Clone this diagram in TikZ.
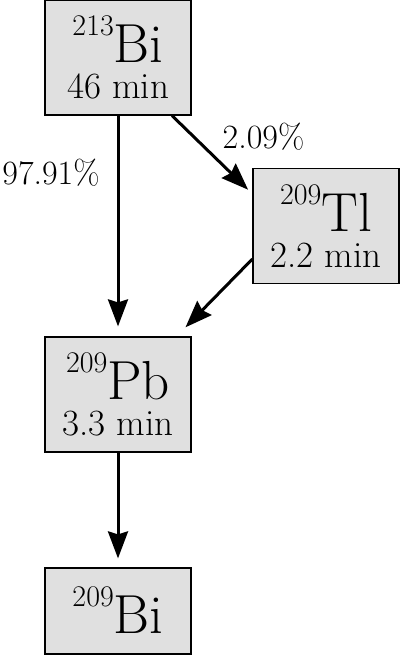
\documentclass[tikz,border=0pt]{standalone}
\usetikzlibrary{arrows.meta,calc}
\definecolor{boxfill}{HTML}{E0E0E0}
\tikzset{
  nucbox/.style={draw=black, line width=1.2pt, fill=boxfill, minimum width=146pt, minimum height=115pt, inner sep=0pt},
  bigtxt/.style={anchor=base, inner sep=0pt, font=\fontsize{55}{55}\selectfont},
  smalltxt/.style={anchor=base, inner sep=0pt, font=\fontsize{37}{37}\selectfont},
  lbl/.style={anchor=base, inner sep=0pt, font=\fontsize{34}{34}\selectfont},
  decay/.style={line width=3pt, -{Stealth[length=27pt,width=20pt,inset=3pt]}}
}
\newcommand{\iso}[2]{{\fontsize{30}{30}\selectfont\raisebox{27pt}{#1}}#2}
\begin{document}
\begin{tikzpicture}[x=1pt,y=-1pt]
\useasboundingbox (0,0) rectangle (400,655);
\node[nucbox] (bi213) at (118,57.5) {};
\node[nucbox] (tl) at (326,226) {};
\node[nucbox] (pb) at (118,394.5) {};
\node[nucbox, minimum height=86pt] (bi209) at (118,611) {};
\node[bigtxt] (t1) at (118,63) {\iso{213}{Bi}};
\node[smalltxt] (m1) at (118,99) {46 min};
\node[bigtxt] (t2) at (326,231) {\iso{209}{Tl}};
\node[smalltxt] (m2) at (326,267) {2.2 min};
\node[bigtxt] (t3) at (118,399) {\iso{209}{Pb}};
\node[smalltxt] (m3) at (118,435) {3.3 min};
\node[bigtxt] (t4) at (118,633) {\iso{209}{Bi}};
\node[lbl] (l1) at (51,184) {97.91\%};
\node[lbl] (l2) at (263.5,149) {2.09\%};
\draw[decay, shorten >=10pt] (bi213.south) -- (pb.north);
\draw[decay, shorten >=6pt] ($(bi213.south)+(54,0)$) -- ($(tl.north west)+(0,26)$);
\draw[decay, shorten >=12.7pt] ($(tl.west)+(0,33)$) -- ($(pb.north east)+(-15,0)$);
\draw[decay, shorten >=9pt] (pb.south) -- (bi209.north);
\end{tikzpicture}
\end{document}
